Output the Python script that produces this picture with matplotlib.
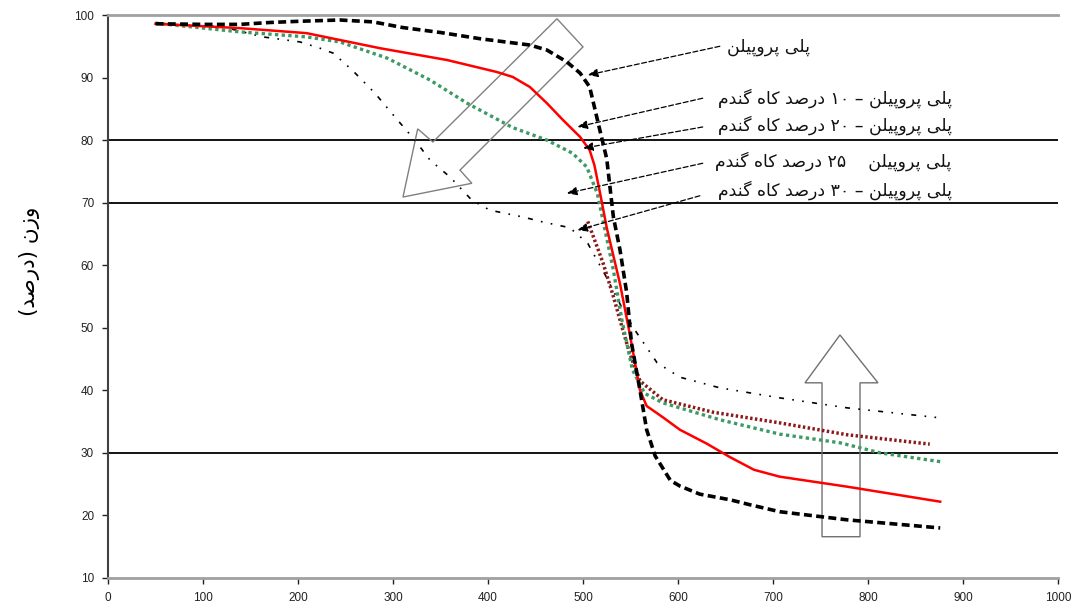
import re
import matplotlib
matplotlib.use("Agg")
import matplotlib.pyplot as plt
from matplotlib.patches import Polygon

# ---------------- data ----------------
pp_x = [50, 100, 139, 170, 202, 244, 279, 310, 350, 392, 444, 462, 483, 497, 507, 512, 516,
        525, 528, 532, 539, 546, 551, 560, 567, 576, 592, 602, 623, 655, 676, 707, 778, 876]
pp_y = [98.6, 98.5, 98.5, 98.8, 99.0, 99.2, 98.9, 98.0, 97.2, 96.2, 95.2, 94.4, 92.5, 90.7,
        88.5, 85.3, 82.7, 77.0, 73.0, 67.7, 62.4, 55.6, 47.6, 40.0, 33.7, 29.5, 25.6, 24.7,
        23.4, 22.5, 21.7, 20.6, 19.3, 18.0]

red_x = [50, 139, 209, 286, 357, 409, 426, 444, 462, 479, 497, 507, 512, 518, 525, 539,
         549, 560, 567, 584, 602, 630, 655, 680, 707, 778, 876]
red_y = [98.6, 97.9, 97.1, 94.7, 92.8, 90.9, 90.1, 88.5, 85.9, 83.2, 80.5, 78.4, 76.0, 71.5,
         66.0, 57.0, 49.2, 40.0, 37.5, 35.7, 33.7, 31.5, 29.3, 27.3, 26.2, 24.6, 22.2]

green_x = [50, 139, 209, 244, 294, 339, 378, 426, 462, 489, 504, 515, 521, 532, 541, 552,
           565, 584, 644, 707, 771, 813, 876]
green_y = [98.7, 97.3, 96.5, 95.7, 93.1, 89.6, 85.9, 82.0, 80.0, 77.9, 75.7, 71.5, 67.2,
           59.2, 51.2, 43.3, 39.5, 38.0, 35.3, 33.0, 31.6, 30.0, 28.6]

brown_x = [505, 521, 532, 542, 549, 560, 584, 637, 707, 778, 865]
brown_y = [67.0, 60.4, 55.0, 49.6, 46.0, 41.5, 38.5, 36.5, 34.8, 32.9, 31.4]

dot_x = [50, 121, 163, 202, 223, 237, 257, 281, 302, 323, 339, 360, 383, 402, 437, 458,
         486, 505, 525, 540, 553, 578, 602, 644, 707, 778, 876]
dot_y = [98.6, 98.1, 96.5, 95.7, 94.7, 93.9, 91.2, 87.5, 83.7, 80.0, 76.8, 74.1, 70.4,
         68.8, 67.7, 66.9, 66.0, 63.5, 58.0, 53.5, 50.0, 44.4, 42.1, 40.4, 38.8, 37.2, 35.6]

x_ticks = [0, 100, 200, 300, 400, 500, 600, 700, 800, 900, 1000]
y_ticks = [10, 20, 30, 40, 50, 60, 70, 80, 90, 100]
hlines = [80, 70, 30]

PP = "پلی پروپیلن"
labels = [PP,
          PP + " – ۱۰ درصد کاه گندم",
          PP + " – ۲۰ درصد کاه گندم",
          PP + "    ۲۵ درصد کاه گندم",
          PP + " – ۳۰ درصد کاه گندم"]
y_label = "وزن (درصد)"

# ---------------- simple Persian shaping ----------------
FORMS = {
    '\u067E': ('\uFB56', '\uFB57', '\uFB58', '\uFB59'),
    '\u0644': ('\uFEDD', '\uFEDE', '\uFEDF', '\uFEE0'),
    '\u06CC': ('\uFBFC', '\uFBFD', '\uFBFE', '\uFBFF'),
    '\u0631': ('\uFEAD', '\uFEAE', None, None),
    '\u0648': ('\uFEED', '\uFEEE', None, None),
    '\u0646': ('\uFEE5', '\uFEE6', '\uFEE7', '\uFEE8'),
    '\u062F': ('\uFEA9', '\uFEAA', None, None),
    '\u0635': ('\uFEB9', '\uFEBA', '\uFEBB', '\uFEBC'),
    '\u06A9': ('\uFB8E', '\uFB8F', '\uFB90', '\uFB91'),
    '\u0627': ('\uFE8D', '\uFE8E', None, None),
    '\u0647': ('\uFEE9', '\uFEEA', '\uFEEB', '\uFEEC'),
    '\u06AF': ('\uFB92', '\uFB93', '\uFB94', '\uFB95'),
    '\u0645': ('\uFEE1', '\uFEE2', '\uFEE3', '\uFEE4'),
    '\u0632': ('\uFEAF', '\uFEB0', None, None),
}


def dual(c):
    return c in FORMS and FORMS[c][2] is not None


def rtl(s):
    out = []
    for i, c in enumerate(s):
        if c not in FORMS:
            out.append(c)
            continue
        prev = s[i - 1] if i > 0 else ''
        nxt = s[i + 1] if i + 1 < len(s) else ''
        jp = dual(prev)
        jn = dual(c) and nxt in FORMS
        f = FORMS[c]
        if jp and jn:
            out.append(f[3])
        elif jp:
            out.append(f[1])
        elif jn:
            out.append(f[2])
        else:
            out.append(f[0])
    vis = ''.join(out)[::-1]
    vis = re.sub('[۰-۹0-9]+', lambda m: m.group(0)[::-1], vis)
    vis = vis.translate(str.maketrans('()', ')('))
    return vis


# ---------------- figure ----------------
fig = plt.figure(figsize=(10.72, 6.05), dpi=100)
ax = fig.add_axes([108 / 1072, 1 - 578 / 605, 950 / 1072, 563 / 605])
ax.set_xlim(0, 1000)
ax.set_ylim(10, 100)

for h in hlines:
    ax.axhline(h, color='black', lw=1.3, zorder=1)

# hollow arrows (annotation shapes)
diag = Polygon([(472.6, 99.4), (500, 94.9), (370.5, 75.2), (383, 73.1), (310.5, 70.9),
                (326, 81.8), (342, 79.7)], closed=True, facecolor='none',
               edgecolor='#808080', lw=1.0, zorder=2)
ax.add_patch(diag)
up = Polygon([(751.6, 16.6), (751.6, 41.2), (733.7, 41.2), (770.5, 48.85), (810.5, 41.2),
              (791.6, 41.2), (791.6, 16.6)], closed=True, facecolor='none',
             edgecolor='#707070', lw=1.0, zorder=2)
ax.add_patch(up)

ax.plot(dot_x, dot_y, color='black', lw=1.2, ls=(0, (1, 5, 3, 5, 1, 5)), zorder=3)
ax.plot(brown_x, brown_y, color='#8b1a1a', lw=2.5, ls=(0, (0.7, 0.7)), zorder=3)
ax.plot(green_x, green_y, color='#3c9a64', lw=2.4, ls=(0, (1, 1)), zorder=4)
ax.plot(red_x, red_y, color='#ff0000', lw=1.8, zorder=5)
ax.plot(pp_x, pp_y, color='black', lw=2.6, ls=(0, (2.2, 1.2)), zorder=6)

# labels with leader lines
persian_font = ['DejaVu Sans']
text_pos = [(739, 94.9), (888, 86.7), (888, 82.3), (888, 76.7), (888, 72.0)]
line_start = [(644, 95.0), (626, 86.7), (626, 82.1), (626, 76.3), (623, 71.1)]
line_end = [(505, 90.4), (494, 82.1), (500, 78.7), (483, 71.5), (494, 65.6)]
for lab, tp, ls_, le in zip(labels, text_pos, line_start, line_end):
    ax.text(tp[0], tp[1], rtl(lab), ha='right', va='center', fontsize=12.5,
            family=persian_font, color='#111111', zorder=8)
    ax.annotate('', xy=le, xytext=ls_,
                arrowprops=dict(arrowstyle='-|>,head_length=0.6,head_width=0.25',
                                color='black', lw=0.9, ls=(0, (4, 2)),
                                shrinkA=0, shrinkB=0), zorder=7)

fig.text(30 / 1072, 1 - 261 / 605, rtl(y_label), rotation=90, ha='center', va='center',
         fontsize=15.5, family=persian_font)

ax.set_xticks(x_ticks)
ax.set_yticks(y_ticks)
ax.tick_params(axis='both', direction='out', length=4, width=1, labelsize=8.5,
               colors='#222222', pad=6)
for lab in ax.get_xticklabels() + ax.get_yticklabels():
    lab.set_family('Liberation Sans')

ax.spines['right'].set_visible(False)
ax.spines['top'].set_color('#a0a0a0')
ax.spines['top'].set_linewidth(2)
ax.spines['bottom'].set_color('#a0a0a0')
ax.spines['bottom'].set_linewidth(2)
ax.spines['left'].set_color('#404040')
ax.spines['left'].set_linewidth(1.5)

fig.savefig('out.png', dpi=100)
